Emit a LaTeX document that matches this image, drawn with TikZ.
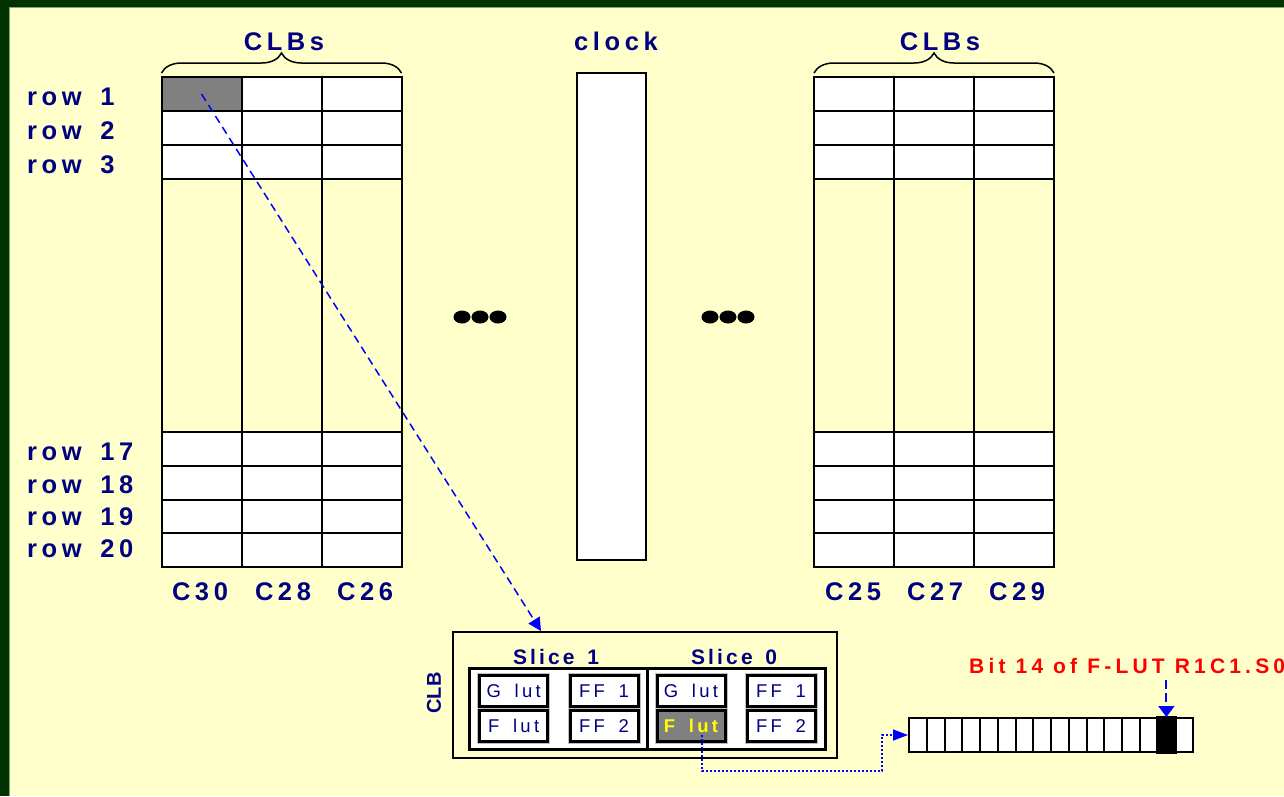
\documentclass[tikz,border=0pt]{standalone}
\usepackage{fontspec}
\setmainfont{Liberation Sans}
\newfontfamily\lsfont[LetterSpace=18,WordSpace=1.6]{Liberation Sans}
\newfontfamily\lsfontb[LetterSpace=15,WordSpace=1.4]{Liberation Sans}
\newfontfamily\lsfontc[LetterSpace=20]{Liberation Sans}
\usetikzlibrary{decorations.pathreplacing,arrows.meta,calc}
\definecolor{bg}{HTML}{FFFFCC}
\definecolor{framegreen}{HTML}{003300}
\definecolor{navy}{HTML}{000080}
\definecolor{cellgray}{HTML}{808080}
\definecolor{arrowblue}{HTML}{0000FF}
\definecolor{bitred}{HTML}{FF0000}
\definecolor{lutyellow}{HTML}{FFFF00}
\tikzset{
  biglabel/.style={font=\lsfont\bfseries\fontsize{25.5}{26}\selectfont, text=navy, inner sep=0},
  slicelabel/.style={font=\lsfontb\bfseries\fontsize{21}{22}\selectfont, text=navy, inner sep=0},
  gridline/.style={draw=black, line width=2pt, line cap=rect},
  lutbox/.style={draw=black, line width=3pt, fill=white, minimum width=68pt, minimum height=31pt, inner sep=0,
    font=\lsfont\fontsize{18.5}{19}\selectfont, text=navy,
    preaction={draw=black!25, line width=5pt}},
  bitcell/.style={draw=black, line width=2pt, fill=white, minimum width=17.75pt, minimum height=34pt, inner sep=0},
  dasharrow/.style={draw=arrowblue, line width=1.5pt, dash pattern=on 8pt off 5pt, -{Triangle[length=13pt,width=13pt]}},
  dotarrow/.style={draw=arrowblue, line width=1.5pt, dash pattern=on 2pt off 2pt, -{Triangle[length=15pt,width=11pt]}},
  shortarrow/.style={draw=arrowblue, line width=2pt, dash pattern=on 9pt off 4pt, -{Triangle[length=11pt,width=16pt]}},
  bracedeco/.style={draw=black, line width=1.5pt, decorate, decoration={brace, amplitude=20pt}},
  dot/.style={fill=black}
}
\begin{document}
\begin{tikzpicture}[x=1pt,y=-1pt]
\clip (0,0) rectangle (1284,796);
\fill[bg] (0,0) rectangle (1284,796);
\fill[framegreen] (0,0) rectangle (1284,7);
\fill[framegreen] (0,0) rectangle (9,796);
\draw[framegreen!45!bg, line width=1pt] (9.5,796) -- (9.5,7.5) -- (1284,7.5);

% grid fills
\foreach \xo in {161.5,814}{
  \fill[white] (\xo,77) rectangle ++(240,102);
  \fill[white] (\xo,432) rectangle ++(240,135);
}
% gray cell row1 C30
\node[fill=cellgray, minimum width=80pt, minimum height=34pt, inner sep=0] (c11) at (201.5,94) {};
% grid lines
\foreach \xo in {161.5,814}{
  \foreach \y in {77,111,145,179,432,466,500,533,567}
    \draw[gridline] (\xo,\y) -- ++(240,0);
  \foreach \i in {0,1,2,3}
    \draw[gridline] (\xo+80*\i,77) -- (\xo+80*\i,567);
}

% braces and headers
\draw[bracedeco] (161.5,73) -- (401.5,73);
\draw[bracedeco] (814,73) -- (1054,73);
\node[biglabel, anchor=base] (clbsL) at (284,50.5) {CLBs};
\node[biglabel, anchor=base] (clbsR) at (940,50.5) {CLBs};
\node[biglabel, anchor=base] (clocklbl) at (616,50.5) {clock};

% clock column
\node[draw=black, line width=2pt, fill=white, minimum width=69pt, minimum height=487pt, inner sep=0] (clk) at (611.5,316.5) {};

% row labels
\node[biglabel, anchor=base west] (r1) at (27,105) {row 1};
\node[biglabel, anchor=base west] (r2) at (27,139) {row 2};
\node[biglabel, anchor=base west] (r3) at (27,173) {row 3};
\node[biglabel, anchor=base west] (r17) at (27,460.5) {row 17};
\node[biglabel, anchor=base west] (r18) at (27,493) {row 18};
\node[biglabel, anchor=base west] (r19) at (27,525) {row 19};
\node[biglabel, anchor=base west] (r20) at (27,557.5) {row 20};

% column labels
\node[biglabel, anchor=base] (c30) at (200,600) {C30};
\node[biglabel, anchor=base] (c28) at (283,600) {C28};
\node[biglabel, anchor=base] (c26) at (365,600) {C26};
\node[biglabel, anchor=base] (c25) at (853,600) {C25};
\node[biglabel, anchor=base] (c27) at (935,600) {C27};
\node[biglabel, anchor=base] (c29) at (1017,600) {C29};

% ellipsis dots
\foreach \cx in {462,480,498,710,728,746}
  \fill[dot] (\cx,317) ellipse [x radius=8.5pt, y radius=6.5pt];

% CLB box
\node[draw=black, line width=2pt, fill=bg, minimum width=384pt, minimum height=126pt, inner sep=0] (clb) at (645,695) {};
\node[draw=black, line width=3pt, fill=white, minimum width=356pt, minimum height=81pt, inner sep=0] (slices) at (647,708.5) {};
\draw[line width=3pt] (slices.north) -- (slices.south);
\node[slicelabel, anchor=base] (s1) at (556,664.3) {Slice 1};
\node[slicelabel, anchor=base] (s0) at (734,664.3) {Slice 0};
\node[font=\bfseries\fontsize{20}{20}\selectfont, text=navy, inner sep=0, rotate=90] (clbtxt) at (434,693) {CLB};

\node[lutbox] (glut1) at (513.7,691) {G lut};
\node[lutbox] (flut1) at (513.7,726) {F lut};
\node[lutbox] (ff11) at (604,691) {FF 1};
\node[lutbox] (ff21) at (604,726) {FF 2};
\node[lutbox] (glut0) at (691,691) {G lut};
\node[lutbox, fill=cellgray, text=lutyellow, font=\lsfont\bfseries\fontsize{18.5}{19}\selectfont] (flut0) at (691,726) {F lut};
\node[lutbox] (ff10) at (781,691) {FF 1};
\node[lutbox] (ff20) at (781,726) {FF 2};

% bit array
\foreach \i in {0,...,15}
  \node[bitcell] (b\i) at (909+17.75*\i+8.875,735) {};
\fill[black] (b14.north west) rectangle (b14.south east);
\draw[line width=2pt] (b14.north west) rectangle (b14.south east);

\node[font=\lsfontc\bfseries\fontsize{21}{22}\selectfont, text=bitred, inner sep=0, anchor=base west] (bitlbl) at (969,673.3) {Bit 14 of F-LUT R1C1.S0};

% connectors
\coordinate (clbin) at ([xshift=-104pt]clb.north);
\draw[dasharrow] (c11.center) -- (clbin);
\coordinate (fstart) at (702,735);
\coordinate (bend) at (882,771);
\draw[dotarrow] (fstart) |- (bend) |- (b0.west);
\coordinate (bitarrowstart) at (b14.north |- 680,680);
\draw[shortarrow] (bitarrowstart) -- (b14.north);
\end{tikzpicture}
\end{document}
